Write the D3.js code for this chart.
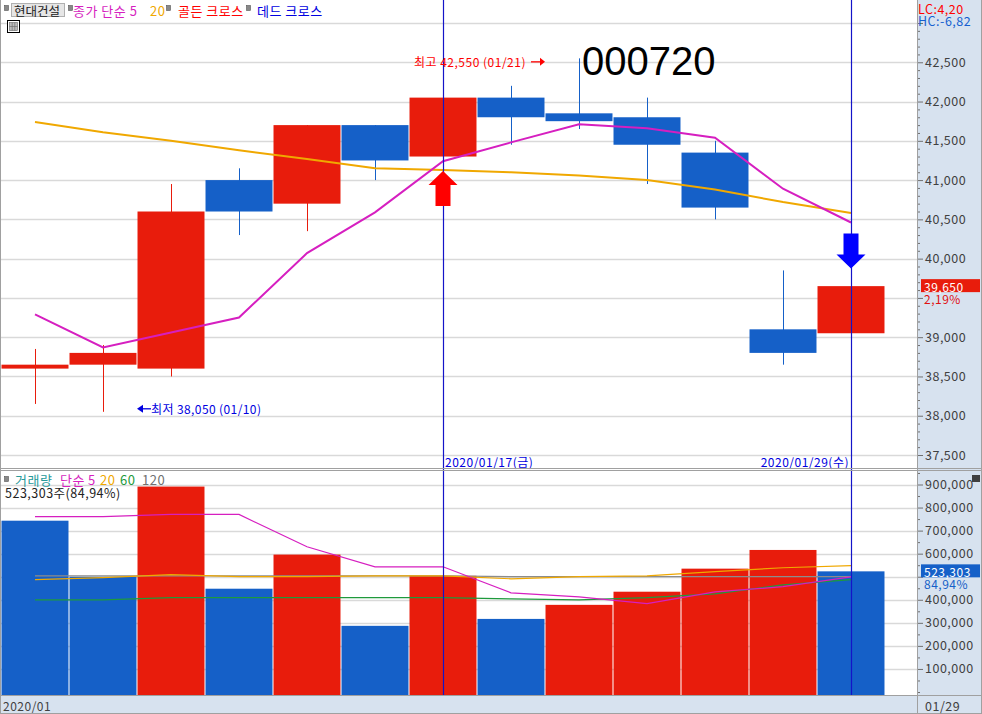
<!DOCTYPE html>
<html><head><meta charset="utf-8">
<script src="https://cdn.jsdelivr.net/npm/d3@7/dist/d3.min.js"></script>
<style>
html,body{margin:0;padding:0;background:#fff;}
svg text{font-family:"Noto Sans CJK KR","Noto Sans",sans-serif;}
</style></head>
<body><svg id="c" width="982" height="714"></svg>
<script>
// ---------- data ----------
const dates  = ['01/09','01/10','01/13','01/14','01/15','01/16','01/17','01/20','01/21','01/22','01/23','01/28','01/29'];
const openP  = [38600,38650,38600,41000,40700,41700,41300,42050,41850,41800,41350,39100,39050];
const highP  = [38850,38900,40950,41150,41700,41700,42050,42200,42550,42050,41500,39850,39650];
const lowP   = [38150,38050,38500,40300,40350,41000,41300,41450,41650,40950,40500,38650,39050];
const closeP = [38650,38800,40600,40600,41700,41250,42050,41800,41750,41450,40650,38800,39650];
const ma5    = [39290,38870,39060,39250,40070,40590,41240,41480,41710,41660,41540,40890,40460];
const ma20   = [41740,41610,41500,41380,41270,41150,41130,41100,41060,41000,40880,40720,40580];
const volume = [743000,500000,891000,448000,596000,287000,504000,317000,378000,435000,535000,616086,523303];
const vma5   = [761000,761000,770000,770000,630000,543000,543000,430000,413000,383000,434000,457000,499000];
const vma20  = [487000,496000,509000,500000,500000,504000,504000,491000,500000,504000,522000,539000,548000];
const vma60  = [400000,400000,409000,409000,409000,409000,409000,404000,400000,409000,426000,465000,487000];
const vma120 = [504000,504000,504000,504000,504000,504000,504000,500000,500000,500000,500000,500000,500000];
const priceTicks = [37500,38000,38500,39000,39500,40000,40500,41000,41500,42000,42500,43000];
const volTicks = [100000,200000,300000,400000,500000,600000,700000,800000,900000];
const goldenIdx = 6, deadIdx = 12;
const goldenDate = '2020/01/17(금)', deadDate = '2020/01/29(수)';
const hiText = '최고 42,550 (01/21)', loText = '최저 38,050 (01/10)';
const code = '000720';

// ---------- style ----------
const RED = '#e81c0c', BLUE = '#1560c8', MAG = '#d61fc0', ORG = '#f0a800', GRN = '#1e9a3c', GRY = '#8c8c8c';
const AXBG = '#d7e2ef', GRID = '#d9d9d9', MARK = '#1414c8';
const LS = '0.5px';

const svg = d3.select('#c');
const W = 982, H = 714, plotR = 917;

const x = d3.scaleBand().domain(d3.range(dates.length)).range([1, 885]).paddingInner(0.015).paddingOuter(0.0075);
const cx = i => x(i) + x.bandwidth()/2;
const yP = d3.scaleLinear().domain([37500, 43000]).range([455, 23]);
const yV = d3.scaleLinear().domain([0, 900000]).range([692, 484.5]);

function txt(xp, yp, s, color, size, anchor, ls){
  return svg.append('text').attr('x',xp).attr('y',yp).attr('dominant-baseline','central')
    .attr('text-anchor',anchor||'start').attr('font-size',size||'12.5px').attr('fill',color)
    .style('letter-spacing',ls||LS).text(s);
}

// backgrounds
svg.append('rect').attr('x',0).attr('y',0).attr('width',W).attr('height',H).attr('fill','#fff');
svg.append('rect').attr('x',plotR).attr('y',0).attr('width',W-plotR).attr('height',H).attr('fill',AXBG);
svg.append('rect').attr('x',0).attr('y',695).attr('width',W).attr('height',H-695).attr('fill',AXBG);

// gridlines
svg.append('g').selectAll('line').data(priceTicks).join('line')
  .attr('x1',1).attr('x2',plotR).attr('y1',d=>Math.round(yP(d))+0.5).attr('y2',d=>Math.round(yP(d))+0.5)
  .attr('stroke',GRID).attr('stroke-width',1.3);
svg.append('g').selectAll('line').data(volTicks).join('line')
  .attr('x1',1).attr('x2',plotR).attr('y1',d=>Math.round(yV(d))+0.5).attr('y2',d=>Math.round(yV(d))+0.5)
  .attr('stroke',GRID).attr('stroke-width',1.3);

// axes
const pa = svg.append('g').attr('transform',`translate(${plotR},0)`)
  .call(d3.axisRight(yP).tickValues(priceTicks).tickSize(6).tickFormat(d3.format(',')));
const minorP = d3.range(37500, 43100, 100).filter(v => v % 500 !== 0);
svg.append('g').attr('transform',`translate(${plotR},0)`)
  .call(d3.axisRight(yP).tickValues(minorP).tickSize(3).tickFormat(''));
const va = svg.append('g').attr('transform',`translate(${plotR},0)`)
  .call(d3.axisRight(yV).tickValues(volTicks).tickSize(6).tickFormat(d3.format(',')));
const minorV = d3.range(50000, 1000000, 100000).concat([0]);
svg.append('g').attr('transform',`translate(${plotR},0)`)
  .call(d3.axisRight(yV).tickValues(minorV).tickSize(3).tickFormat(''));
svg.selectAll('.domain').remove();
svg.selectAll('.tick line').attr('stroke','#707070');
svg.selectAll('.tick text').attr('fill','#404040').attr('font-size','12.5px').attr('x',8)
  .style('letter-spacing',LS).style('font-family','"Noto Sans CJK KR",sans-serif');

// candles
const cg = svg.append('g');
const idx = d3.range(dates.length);
const up = i => closeP[i] >= openP[i];
cg.selectAll('line.wick').data(idx).join('line')
  .attr('x1',i=>Math.round(cx(i))+0.5).attr('x2',i=>Math.round(cx(i))+0.5)
  .attr('y1',i=>yP(highP[i])).attr('y2',i=>yP(lowP[i]))
  .attr('stroke',i=>up(i)?RED:BLUE).attr('stroke-width',1);
cg.selectAll('rect.body').data(idx).join('rect')
  .attr('x',i=>x(i)).attr('width',x.bandwidth())
  .attr('y',i=>yP(Math.max(openP[i],closeP[i])))
  .attr('height',i=>Math.max(1.5, Math.abs(yP(openP[i])-yP(closeP[i]))))
  .attr('fill',i=>up(i)?RED:BLUE);

// MA lines price
const lineP = arr => d3.line().x((d,i)=>cx(i)).y(d=>yP(d))(arr);
svg.append('path').attr('d',lineP(ma20)).attr('fill','none').attr('stroke',ORG).attr('stroke-width',2);
svg.append('path').attr('d',lineP(ma5)).attr('fill','none').attr('stroke',MAG).attr('stroke-width',2);

// volume bars
const vUp = i => i > 0 && volume[i] > volume[i-1];
svg.append('g').selectAll('rect').data(idx).join('rect')
  .attr('x',i=>x(i)).attr('width',x.bandwidth())
  .attr('y',i=>yV(volume[i])).attr('height',i=>695-yV(volume[i]))
  .attr('fill',i=>vUp(i)?RED:BLUE);
const lineV = arr => d3.line().x((d,i)=>cx(i)).y(d=>yV(d))(arr);
[[vma120,GRY],[vma60,GRN],[vma20,ORG],[vma5,MAG]].forEach(([a,c])=>{
  svg.append('path').attr('d',lineV(a)).attr('fill','none').attr('stroke',c).attr('stroke-width',1.2);
});

// cross markers
[goldenIdx, deadIdx].forEach(i=>{
  svg.append('line').attr('x1',Math.round(cx(i))+0.5).attr('x2',Math.round(cx(i))+0.5)
    .attr('y1',0).attr('y2',695).attr('stroke',MARK).attr('stroke-width',1.2);
});
{
  const gx = cx(goldenIdx), gy = yP(ma20[goldenIdx]) + 1;
  svg.append('path').attr('fill','#ff0000')
    .attr('d',`M${gx},${gy} L${gx+14.5},${gy+14} L${gx+7.5},${gy+14} L${gx+7.5},${gy+35} L${gx-7.5},${gy+35} L${gx-7.5},${gy+14} L${gx-14.5},${gy+14} Z`);
  const dx = cx(deadIdx), dy = yP(ma5[deadIdx]) + 11;
  svg.append('path').attr('fill','#0000ff')
    .attr('d',`M${dx-7.5},${dy} L${dx+7.5},${dy} L${dx+7.5},${dy+21} L${dx+14.5},${dy+21} L${dx},${dy+35} L${dx-14.5},${dy+21} L${dx-7.5},${dy+21} Z`);
}
txt(cx(goldenIdx)+2, 461, goldenDate, '#0000e0', '12px');
txt(cx(deadIdx)-2, 461, deadDate, '#0000e0', '12px', 'end');

// high / low annotations
{
  const hiIdx = highP.indexOf(d3.max(highP)), loIdx = lowP.indexOf(d3.min(lowP));
  const hy = yP(highP[hiIdx]) + 3.5;
  const ax = cx(hiIdx)-48;
  svg.append('line').attr('x1',ax).attr('x2',ax+10).attr('y1',hy).attr('y2',hy).attr('stroke','#ff0000').attr('stroke-width',1.3);
  svg.append('path').attr('d',`M${ax+9},${hy-4} L${ax+14},${hy} L${ax+9},${hy+4} Z`).attr('fill','#ff0000');
  txt(ax-5, hy, hiText, '#ff0000', '12px', 'end', '0.5px');
  const ly = yP(lowP[loIdx]) - 3;
  const lx = cx(loIdx)+34;
  svg.append('path').attr('d',`M${lx},${ly} L${lx+6},${ly-4} L${lx+6},${ly+4} Z`).attr('fill','#0000e0');
  svg.append('line').attr('x1',lx+5).attr('x2',lx+14).attr('y1',ly).attr('y2',ly).attr('stroke','#0000e0').attr('stroke-width',1.3);
  txt(lx+14, ly, loText, '#0000e0', '12px', 'start', '0.4px');
}
svg.append('text').attr('x',582).attr('y',75).attr('font-size','40px').attr('fill','#000')
  .style('font-family','"Liberation Sans",Arial,sans-serif').text(code);

// price / volume tags (cover the axis labels beneath them)
{
  const last = closeP.length-1, ty = yP(closeP[last]);
  const pct = ((closeP[last]/closeP[last-1]-1)*100).toFixed(2).replace('.',',')+'%';
  pa.selectAll('.tick').filter(d => Math.abs(yP(d) - (ty+6)) < 12 || d === 43000).select('text').remove();
  svg.append('rect').attr('x',921).attr('y',ty-7).attr('width',59).attr('height',13).attr('fill',RED);
  txt(924, ty, d3.format(',')(closeP[last]), '#fff', '12px');
  txt(924, ty+12, pct, '#e01010', '12px');
  const vl = volume[last], vy = yV(vl);
  const vp = (vl/volume[last-1]*100).toFixed(2).replace('.',',')+'%';
  va.selectAll('.tick').filter(d => Math.abs(yV(d) - (vy+6)) < 12).select('text').remove();
  svg.append('rect').attr('x',921).attr('y',vy-7).attr('width',59).attr('height',13).attr('fill',BLUE);
  txt(924, vy, d3.format(',')(vl), '#fff', '12px');
  txt(924, vy+12, vp, BLUE, '12px');
  txt(5, 492, d3.format(',')(vl)+'주('+vp+')', '#222', '12.5px');
}

txt(918, 8, 'LC:4,20', '#ff0000', '12.5px');
txt(918, 20, 'HC:-6,82', '#1560d0', '12.5px');

// legends
function bullet(xp,yp){ svg.append('rect').attr('x',xp).attr('y',yp).attr('width',4).attr('height',5).attr('fill','#888').attr('stroke','#555').attr('stroke-width',0.6); }
bullet(4.5,5.5);
svg.append('rect').attr('x',11.5).attr('y',3.5).attr('width',53).attr('height',13).attr('fill','#e6e6e6').attr('stroke','#b0b0b0');
svg.append('text').attr('x',14).attr('y',10).attr('dominant-baseline','central').attr('font-size','12.5px').attr('fill','#222').text('현대건설');
bullet(68.5,5.5);
const leg = [['종가 단순 5',MAG,73],['20',ORG,150],['골든 크로스','#ff0000',178],['데드 크로스','#0000e0',257]];
leg.forEach(([t,c,xp])=>txt(xp,10,t,c,'13px'));
bullet(166.5,5.5); bullet(246.5,5.5);
svg.append('rect').attr('x',7.5).attr('y',20.5).attr('width',12).attr('height',12).attr('fill','#fff').attr('stroke','#000');
svg.append('rect').attr('x',9.5).attr('y',22.5).attr('width',8).attr('height',8).attr('fill','#bbb').attr('stroke','#666').attr('stroke-width',0.6);
[12.2,14.8].forEach(v=>svg.append('line').attr('x1',v).attr('x2',v).attr('y1',22.5).attr('y2',30.5).attr('stroke','#666').attr('stroke-width',0.6));
svg.append('line').attr('x1',9.5).attr('x2',17.5).attr('y1',26.5).attr('y2',26.5).attr('stroke','#666').attr('stroke-width',0.6);

bullet(4.5,476.5);
const vleg = [['거래량','#279a9a',15],['단순',MAG,60],['5',MAG,88],['20',ORG,100],['60',GRN,120],['120','#707070',142]];
vleg.forEach(([t,c,xp])=>txt(xp,479,t,c,'13px'));
svg.append('rect').attr('x',972).attr('y',475).attr('width',8).attr('height',7).attr('fill','#404040');

// frames
[468.5,470.5,695.5,713.5].forEach(v=>svg.append('line').attr('x1',0).attr('x2',W).attr('y1',v).attr('y2',v).attr('stroke','#a0a0a0'));
[plotR+0.5,0.5,W-0.5].forEach(v=>svg.append('line').attr('x1',v).attr('x2',v).attr('y1',0).attr('y2',H).attr('stroke','#a0a0a0'));
txt(3, 705, '2020/01', '#404040', '12px');
txt(925, 705, dates[dates.length-1], '#404040', '12.5px');
</script></body></html>
